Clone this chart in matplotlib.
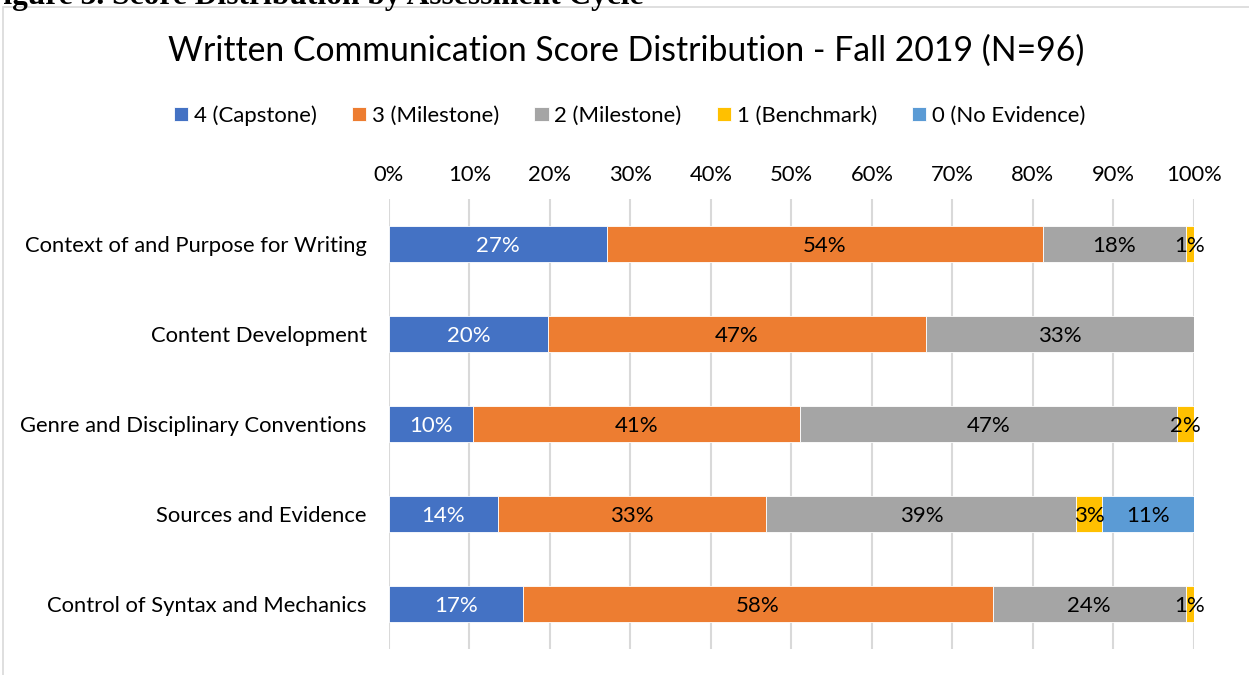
import matplotlib.pyplot as plt
from matplotlib.patches import Rectangle

plt.rcParams['font.family'] = ['Lato', 'DejaVu Sans']

# Data (percent of N=96)
criteria = ["Context of and Purpose for Writing", "Content Development",
            "Genre and Disciplinary Conventions", "Sources and Evidence",
            "Control of Syntax and Mechanics"]
levels = ["4 (Capstone)", "3 (Milestone)", "2 (Milestone)", "1 (Benchmark)", "0 (No Evidence)"]
score4 = [27.08, 19.79, 10.42, 13.54, 16.67]
score3 = [54.17, 46.88, 40.63, 33.33, 58.33]
score2 = [17.71, 33.33, 46.88, 38.54, 23.96]
score1 = [1.04, 0.0, 2.08, 3.13, 1.04]
score0 = [0.0, 0.0, 0.0, 11.46, 0.0]

colors = ['#4472C4', '#ED7D31', '#A5A5A5', '#FFC000', '#5B9BD5']
label_colors = ['white', 'black', 'black', 'black', 'black']

fig = plt.figure(figsize=(12.49, 6.75), dpi=100)
ax = fig.add_axes([0.3114, 0.0385, 0.6445, 0.6667])

# frame around the chart
fig.patches.append(Rectangle((0.0024, -0.01), 1.01, 0.9996,
                             transform=fig.transFigure, fill=False,
                             edgecolor='#d9d9d9', linewidth=1.2))

series = [score4, score3, score2, score1, score0]
left = [0.0] * len(criteria)
y = list(range(len(criteria)))
for vals, name, c, lc in zip(series, levels, colors, label_colors):
    bars = ax.barh(y, vals, left=left, height=0.41, color=c, label=name,
                   edgecolor='white', linewidth=0.6, zorder=3)
    for b, v in zip(bars, vals):
        if v > 0:
            ax.text(b.get_x() + b.get_width() / 2, b.get_y() + b.get_height() / 2,
                    f"{v:.0f}%", ha='center', va='center_baseline', color=lc,
                    fontsize=16, zorder=4)
    left = [l + v for l, v in zip(left, vals)]

ax.set_xlim(0, 100)
ax.set_ylim(4.5, -0.5)
ax.set_yticks(y)
ax.set_yticklabels(criteria, fontsize=15.8)
ax.set_xticks(range(0, 101, 10))
ax.set_xticklabels([f"{t}%" for t in range(0, 101, 10)], fontsize=15.8)
ax.xaxis.tick_top()
ax.tick_params(axis='x', length=0, pad=10)
ax.tick_params(axis='y', length=0, pad=16)
ax.grid(axis='x', color='#d9d9d9', linewidth=1.5, zorder=0)
for s in ax.spines.values():
    s.set_visible(False)

fig.text(0.501, 0.925, "Written Communication Score Distribution - Fall 2019 (N=96)",
         ha='center', va='center', fontsize=24.3)
fig.legend(loc='center', bbox_to_anchor=(0.504, 0.829), ncol=5, frameon=False,
           fontsize=15.9, handlelength=0.65, handleheight=0.65, handletextpad=0.25,
           columnspacing=1.6)

# partially cut-off caption above the chart
fig.text(-0.013, 0.9941, "Figure 3. Score Distribution by Assessment Cycle",
         ha='left', va='baseline', fontsize=22.6, fontweight='bold',
         family='Liberation Serif')

fig.savefig('out.png', dpi=100)
